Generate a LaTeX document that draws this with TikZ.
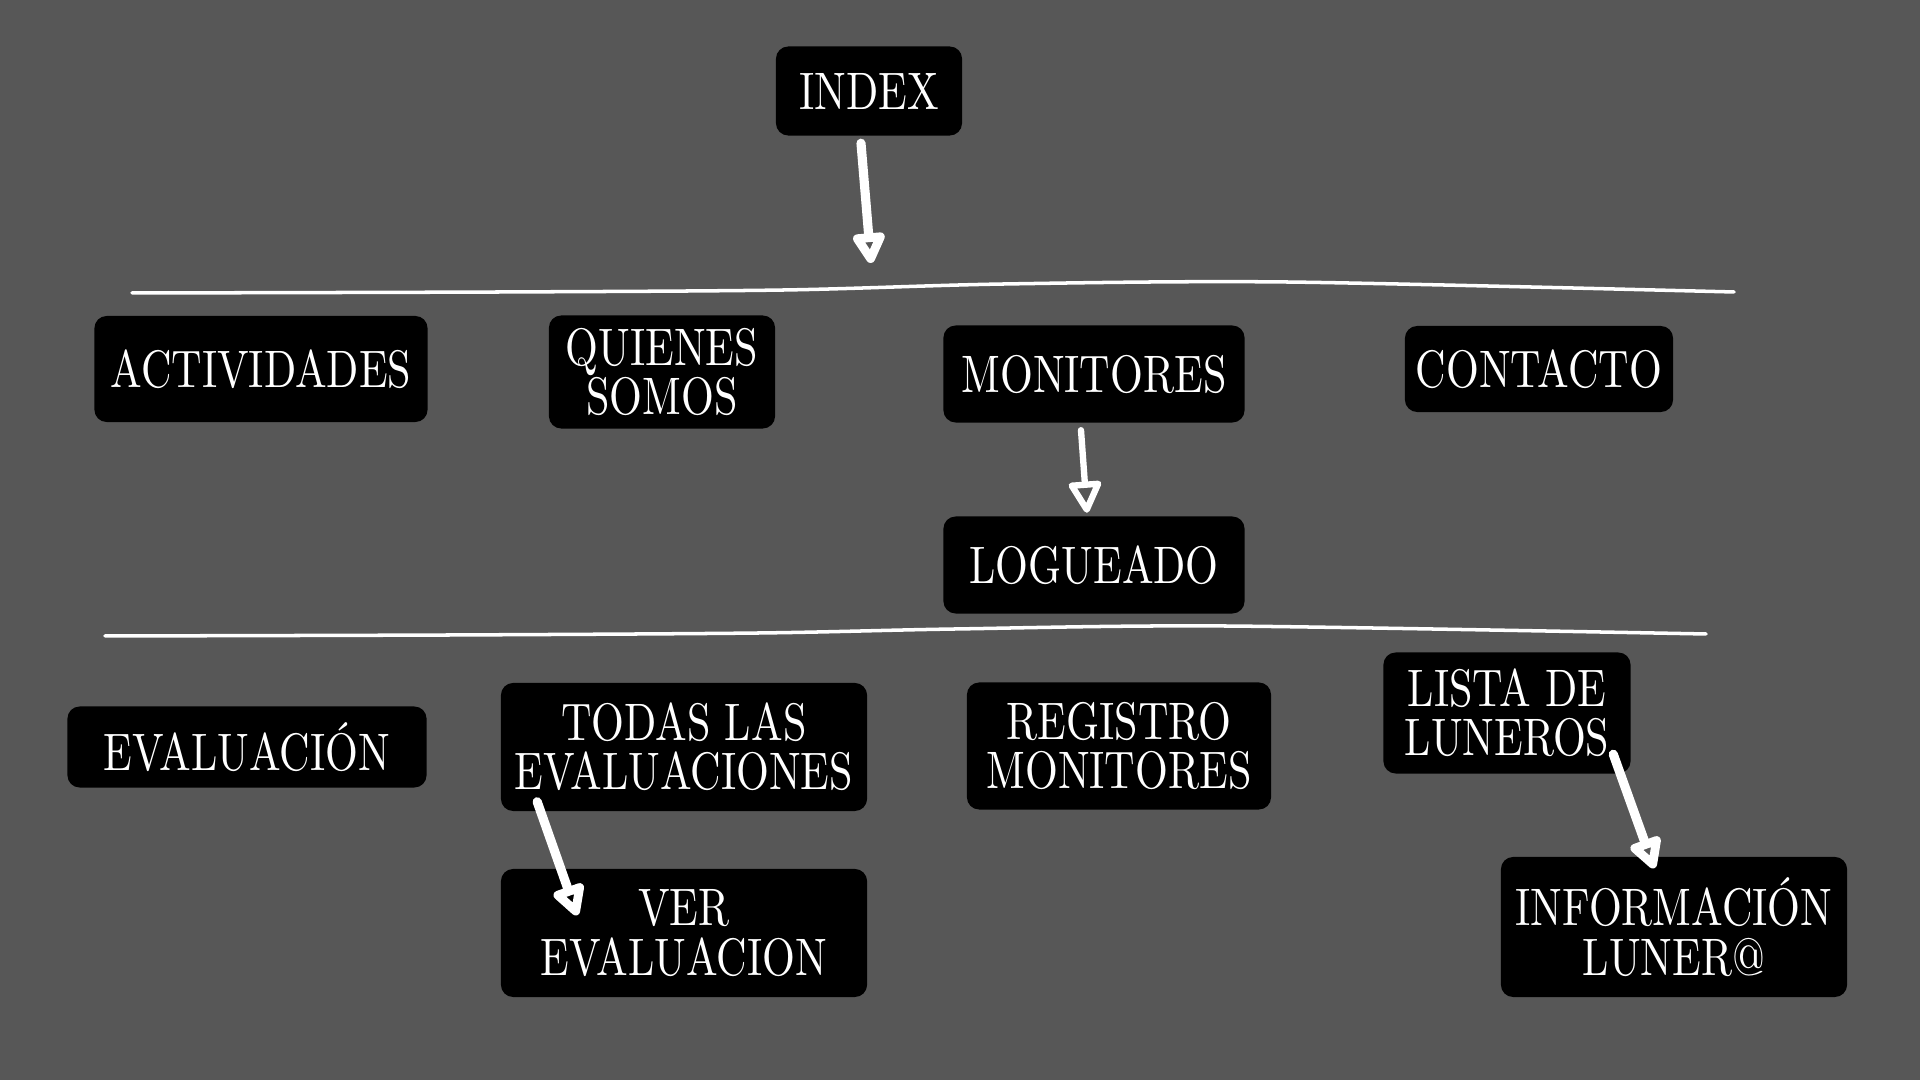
\documentclass[tikz,border=0pt]{standalone}
\usepackage{fontspec}
\setmainfont{lmroman10-regular}[Extension=.otf, FakeStretch=0.8]
\usepackage{xcolor}
\usetikzlibrary{arrows.meta}
\definecolor{boardgray}{RGB}{87,87,87}

\begin{document}
\begin{tikzpicture}[x=0.01cm, y=-0.01cm,
    pagebox/.style={fill=black, text=white, rounded corners=3.5pt, align=center, inner sep=0pt,
        font=\fontsize{15pt}{14pt}\selectfont},
    chalk/.style={white, line width=1pt, line cap=round},
    link/.style={white, line width=2.6pt, line cap=round,
        -{Triangle[open, round, length=10pt, width=10pt]}}]
    \fill[boardgray] (0,0) rectangle (1920,1080);

    % top
    \node[pagebox, minimum width=1.86cm, minimum height=0.89cm] (index) at (869,91) {INDEX};
    \coordinate (menu) at (871,263);

    % menu line
    \draw[chalk] plot[smooth] coordinates {(132,293) (500,292) (784,290) (1004,284) (1286,282) (1734,292)};

    % menu pages
    \node[pagebox, minimum width=3.33cm, minimum height=1.06cm] (activ) at (261,369) {ACTIVIDADES};
    \node[pagebox, minimum width=2.26cm, minimum height=1.13cm] (quienes) at (662,372) {QUIENES\\SOMOS};
    \node[pagebox, minimum width=3.01cm, minimum height=0.97cm] (monit) at (1094,374) {MONITORES};
    \node[pagebox, minimum width=2.68cm, minimum height=0.86cm] (contacto) at (1539,369) {CONTACTO};
    \node[pagebox, minimum width=3.01cm, minimum height=0.97cm] (logueado) at (1094,565) {LOGUEADO};

    % private line
    \draw[chalk] plot[smooth] coordinates {(105,636) (450,635) (759,633) (955,629) (1224,626) (1706,634)};

    % private pages
    \node[pagebox, minimum width=3.59cm, minimum height=0.81cm] (evaluac) at (247,747) {EVALUACIÓN};
    \node[pagebox, minimum width=3.66cm, minimum height=1.28cm] (todas) at (684,747) {TODAS LAS\\EVALUACIONES};
    \node[pagebox, minimum width=3.04cm, minimum height=1.27cm] (registro) at (1119,746) {REGISTRO\\MONITORES};
    \node[pagebox, minimum width=2.47cm, minimum height=1.21cm] (lista) at (1507,713) {LISTA DE\\LUNEROS};
    \node[pagebox, minimum width=3.66cm, minimum height=1.28cm] (verev) at (684,933) {VER\\EVALUACION};
    \node[pagebox, minimum width=3.46cm, minimum height=1.40cm] (infolun) at (1674,927) {INFORMACIÓN\\LUNER@};

    % arrows
    \draw[link] ([shift={(-8,7)}]index.south) -- (menu);
    \draw[link, line width=1.8pt] ([shift={(-13,7)}]monit.south) -- ([shift={(-7,-3)}]logueado.north);
    \draw[link] ([shift={(37,-10)}]todas.south west) -- ([shift={(77,47)}]verev.north west);
    \draw[link] ([shift={(-18,-20)}]lista.south east) -- ([shift={(154,12)}]infolun.north west);
\end{tikzpicture}
\end{document}
